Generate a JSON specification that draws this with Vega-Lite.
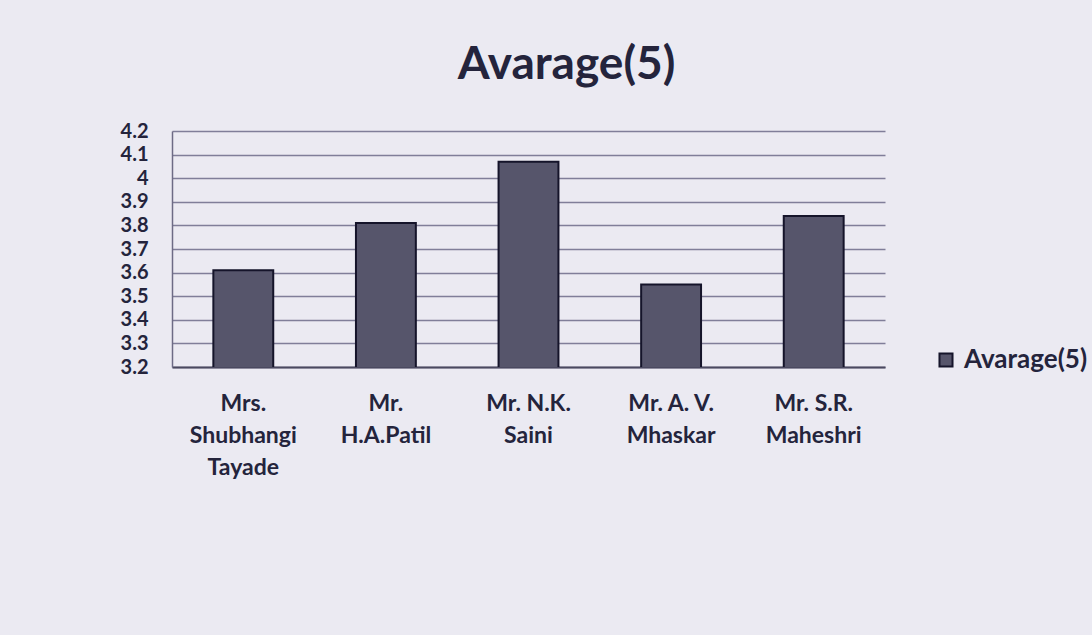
{
  "$schema": "https://vega.github.io/schema/vega-lite/v6.json",
  "autosize": "none",
  "width": 713,
  "height": 236,
  "padding": {"left": 172, "top": 131, "right": 207, "bottom": 268},
  "background": "#ebeaf2",
  "title": {
    "text": "Avarage(5)",
    "font": "Lato",
    "fontSize": 46,
    "fontWeight": "bold",
    "color": "#24243c",
    "anchor": "middle",
    "dx": 38,
    "offset": 32
  },
  "data": {
    "values": [
      {"name": "Mrs.|Shubhangi|Tayade", "value": 3.61, "series": "Avarage(5)"},
      {"name": "Mr.|H.A.Patil", "value": 3.81, "series": "Avarage(5)"},
      {"name": "Mr. N.K.|Saini", "value": 4.07, "series": "Avarage(5)"},
      {"name": "Mr. A. V.|Mhaskar", "value": 3.55, "series": "Avarage(5)"},
      {"name": "Mr. S.R.|Maheshri", "value": 3.84, "series": "Avarage(5)"}
    ]
  },
  "mark": {"type": "bar", "stroke": "#15142a", "strokeWidth": 2, "clip": true},
  "encoding": {
    "x": {
      "field": "name",
      "type": "nominal",
      "sort": null,
      "title": null,
      "scale": {"paddingInner": 0.58, "paddingOuter": 0.29},
      "axis": {
        "labelExpr": "split(datum.value, '|')",
        "labelAngle": 0,
        "labelFont": "Lato",
        "labelFontSize": 23,
        "labelFontWeight": "bold",
        "labelColor": "#24243c",
        "labelLineHeight": 32,
        "labelPadding": 25,
        "labelBaseline": "top",
        "ticks": false,
        "domain": true,
        "domainColor": "#4a4960",
        "domainWidth": 2
      }
    },
    "y": {
      "field": "value",
      "type": "quantitative",
      "title": null,
      "scale": {"domain": [3.2, 4.2], "zero": false, "nice": false},
      "axis": {
        "values": [3.2, 3.3, 3.4, 3.5, 3.6, 3.7, 3.8, 3.9, 4, 4.1, 4.2],
        "labelExpr": "format(datum.value, '.1~f')",
        "labelFont": "Lato",
        "labelFontSize": 20,
        "labelFontWeight": "bold",
        "labelColor": "#24243c",
        "labelPadding": 24,
        "labelOverlap": false,
        "ticks": false,
        "domain": true,
        "domainColor": "#6d6b85",
        "domainWidth": 1.5,
        "grid": true,
        "gridColor": "#807e99",
        "gridWidth": 1.5
      }
    },
    "fill": {
      "field": "series",
      "type": "nominal",
      "scale": {"range": ["#56556b"]},
      "legend": {
        "title": null,
        "orient": "none",
        "legendX": 761,
        "legendY": 216,
        "symbolType": "square",
        "symbolSize": 170,
        "symbolStrokeColor": "#15142a",
        "symbolStrokeWidth": 2,
        "labelFont": "Lato",
        "labelFontSize": 26,
        "labelFontWeight": "bold",
        "labelColor": "#24243c",
        "labelOffset": 5
      }
    }
  },
  "config": {"view": {"stroke": null}}
}
